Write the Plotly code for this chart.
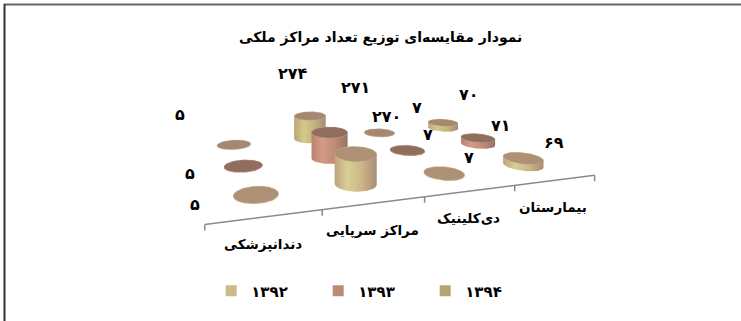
import numpy as np
import plotly.graph_objects as go

# ---------------- data ----------------
categories = ["دندانپزشکی", "مراکز سرپایی", "دی\u200cکلینیک", "بیمارستان"]
series_names = ["۱۳۹۲", "۱۳۹۳", "۱۳۹۴"]
values_1392 = [5, 270, 7, 69]
values_1393 = [5, 271, 7, 71]
values_1394 = [5, 274, 7, 70]
title_text = "نمودار مقایسه\u200cای توزیع تعداد مراکز ملکی"

series_values = [values_1392, values_1393, values_1394]

# ---------------- style / layout ----------------
FONT = "DejaVu Sans"
legend_colors = ["#CDB98A", "#BF8A74", "#B5A370"]
body_scales = [
    [[0, "#BDA37C"], [0.3, "#D9CE93"], [0.65, "#CDB588"], [1, "#A88B76"]],
    [[0, "#B8836F"], [0.3, "#D49B83"], [0.65, "#C08A76"], [1, "#9A7064"]],
    [[0, "#B8A676"], [0.3, "#D3C98B"], [0.65, "#C4B27E"], [1, "#A58B70"]],
]
top_colors = ["#AE9175", "#8F6E5D", "#A6876F"]

# camera calibration of the floor plane (floor units -> screen px)
floor_src = [(0.5, 0.5), (3.5, 0.5), (0.5, 2.5), (3.5, 2.5)]
floor_dst = [(256, 195), (523, 165), (234, 145), (443, 128)]
RX, RY = 0.21, 0.245          # cylinder radius in floor units
Z_PX_REF = 30.0 / 270.0       # px per value unit at reference point
REF_PT = (1.5, 0.5)
Y_EDGE = -0.08                # front edge of floor (axis line)
TICK_LEN = 6
CAT_LABEL_DROP = 27

# label offsets from top centre of each cylinder [series][category]
label_dx = [[-61, 31, 25, 31], [-53, 26, 21, 23], [-54, -17, 38, 26]]
label_dy = [[10, -37, -16, -16], [8, -45, -16, -12], [-30, -42, -25, -28]]


def homography(src, dst):
    A, bvec = [], []
    for (X, Y), (u, v) in zip(src, dst):
        A.append([X, Y, 1, 0, 0, 0, -X * u, -Y * u]); bvec.append(u)
        A.append([0, 0, 0, X, Y, 1, -X * v, -Y * v]); bvec.append(v)
    return np.linalg.solve(np.array(A, float), np.array(bvec, float))


Hm = homography(floor_src, floor_dst)


def proj(X, Y):
    a, b, c, d, e, f, g, h = Hm
    w = g * np.asarray(X) + h * np.asarray(Y) + 1
    return (a * X + b * Y + c) / w, (d * X + e * Y + f) / w, w


_, _, w_ref = proj(*REF_PT)
ZK = Z_PX_REF * w_ref


def to_fa(n):
    return str(n).translate(str.maketrans("0123456789", "۰۱۲۳۴۵۶۷۸۹"))


fig = go.Figure()
annotations = []
N = 96
th = np.linspace(0, 2 * np.pi, N, endpoint=False)

for i in [2, 1, 0]:
    Yc = 0.5 + i
    for j, val in enumerate(series_values[i]):
        Xc = 0.5 + j
        u, v, w = proj(Xc + RX * np.cos(th), Yc + RY * np.sin(th))
        cu, cv, wc = proj(Xc, Yc)
        hpx = val * ZK / wc
        tv = v - hpx
        iL, iR = int(np.argmin(u)), int(np.argmax(u))
        front = [(iL + k) % N for k in range(((iR - iL) % N) + 1)]
        back = [(iR + k) % N for k in range(((iL - iR) % N) + 1)]
        bx = list(u[front]) + list(u[back])
        by = list(v[front]) + list(tv[back])
        fig.add_trace(go.Scatter(
            x=bx + [bx[0]], y=by + [by[0]], mode="lines", fill="toself",
            line=dict(width=0, color="rgba(0,0,0,0)"),
            fillgradient=dict(type="horizontal", colorscale=body_scales[i]),
            hoverinfo="skip", showlegend=False))
        fig.add_trace(go.Scatter(
            x=list(u) + [u[0]], y=list(tv) + [tv[0]], mode="lines", fill="toself",
            fillcolor=top_colors[i], line=dict(width=0.6, color="rgba(200,180,160,0.6)"),
            hoverinfo="skip", showlegend=False))
        annotations.append(dict(
            x=cu + label_dx[i][j], y=cv - hpx + label_dy[i][j], text=to_fa(val),
            showarrow=False, xref="x", yref="y",
            font=dict(family=FONT, size=16, color="#000", weight="bold")))

# floor front edge axis with ticks
ex, ey, _ = proj(np.array([0.0, 4.0]), np.array([Y_EDGE, Y_EDGE]))
fig.add_trace(go.Scatter(x=ex, y=ey, mode="lines", line=dict(color="#8a8a8a", width=1.5),
                         hoverinfo="skip", showlegend=False))
for k in range(len(categories) + 1):
    tx, ty, _ = proj(float(k), Y_EDGE)
    fig.add_trace(go.Scatter(x=[tx, tx], y=[ty, ty + TICK_LEN], mode="lines",
                             line=dict(color="#8a8a8a", width=1.5),
                             hoverinfo="skip", showlegend=False))
for j, cat in enumerate(categories):
    lx, ly, _ = proj(j + 0.5, Y_EDGE)
    annotations.append(dict(x=lx - 3, y=ly + CAT_LABEL_DROP, text=cat, showarrow=False,
                            xref="x", yref="y",
                            font=dict(family=FONT, size=13.5, color="#000", weight="bold")))

# legend entries
for name, col in zip(series_names, legend_colors):
    fig.add_trace(go.Scatter(x=[-100], y=[-100], mode="markers", name=name,
                             marker=dict(symbol="square", size=11, color=col)))

annotations.append(dict(x=380, y=37, xref="x", yref="y", text=title_text,
                        showarrow=False, xanchor="center", yanchor="middle",
                        font=dict(family=FONT, size=14, color="#000", weight="bold")))

fig.update_layout(
    width=741, height=321, margin=dict(l=0, r=0, t=0, b=0),
    paper_bgcolor="white", plot_bgcolor="white",
    xaxis=dict(range=[0, 741], visible=False, fixedrange=True),
    yaxis=dict(range=[321, 0], visible=False, fixedrange=True),
    annotations=annotations,
    showlegend=True,
    legend=dict(orientation="h", x=0.285, xanchor="left", y=1 - 291 / 321, yanchor="middle",
                entrywidth=62, entrywidthmode="pixels", bgcolor="rgba(0,0,0,0)",
                font=dict(family=FONT, size=15, color="#000", weight="bold")),
    shapes=[
        dict(type="line", xref="x", yref="y", x0=4, x1=741, y0=4.5, y1=4.5,
             line=dict(color="#666666", width=2)),
        dict(type="line", xref="x", yref="y", x0=4.5, x1=4.5, y0=4, y1=321,
             line=dict(color="#333333", width=2)),
    ],
)

fig.write_html("out.html")
